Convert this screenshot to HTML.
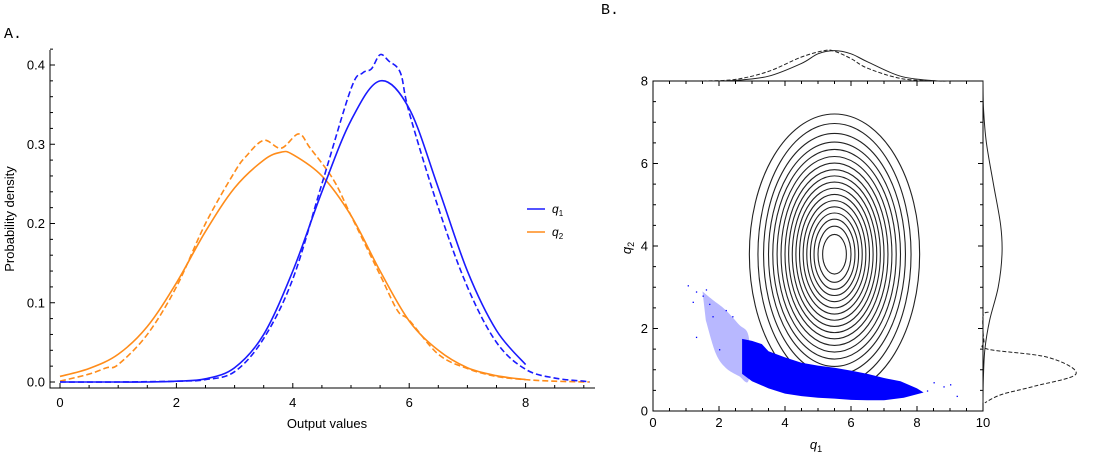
<!DOCTYPE html>
<html><head><meta charset="utf-8"><style>
body{margin:0;background:#fff;}
svg{display:block;font-family:"Liberation Sans",sans-serif;}
</style></head><body>
<svg id="fig" width="1103" height="462" viewBox="0 0 1103 462" xmlns="http://www.w3.org/2000/svg">
<text x="4" y="38" font-family="Liberation Mono,monospace" font-size="15">A.</text>
<text x="601" y="14" font-family="Liberation Mono,monospace" font-size="15">B.</text>
<g id="pa"></g>
<g id="pb"></g>
</svg>
<script>
// ---- Panel A data ----
const q1SolidX = [0,0.5,1,1.5,2,2.5,3,3.5,4,4.5,5,5.5,6,6.5,7,7.5,8];
const q1SolidY = [0,0,0,0,0.001,0.004,0.018,0.06,0.14,0.24,0.33,0.38,0.345,0.245,0.14,0.065,0.022];
const q1DashX = [0,1,2,2.5,3,3.5,4,4.5,5,5.2,5.35,5.5,5.65,5.85,6,6.5,7,7.5,8,8.5,9,9.1];
const q1DashY = [0,0,0.001,0.003,0.013,0.055,0.13,0.25,0.37,0.39,0.395,0.413,0.405,0.39,0.34,0.22,0.12,0.05,0.016,0.005,0.001,0];
const q2SolidX = [0,0.5,1,1.5,2,2.5,3,3.5,3.8,4,4.5,5,5.5,6,6.5,7,7.5,8];
const q2SolidY = [0.007,0.017,0.035,0.07,0.125,0.19,0.245,0.28,0.29,0.287,0.26,0.21,0.14,0.077,0.04,0.018,0.008,0.003];
const q2DashX = [0,0.5,0.8,1,1.5,2,2.5,3,3.2,3.5,3.8,4.1,4.3,4.7,5,5.5,5.8,6,6.5,7,7.5,8,8.5,9.1];
const q2DashY = [0.001,0.01,0.018,0.022,0.06,0.12,0.2,0.265,0.285,0.305,0.295,0.313,0.295,0.255,0.21,0.135,0.09,0.078,0.035,0.017,0.007,0.003,0.001,0];
const aXTicks = [0,2,4,6,8];
const aYTicks = [0,0.1,0.2,0.3,0.4];
const aYTickLabels = ["0.0","0.1","0.2","0.3","0.4"];
// ---- Panel B data ----
const bXTicks = [0,2,4,6,8,10];
const bYTicks = [0,2,4,6,8];
const contourCenter = [5.5,3.8];
const contourRx = [0.36,0.5,0.62,0.73,0.84,0.95,1.06,1.17,1.28,1.39,1.5,1.62,1.74,1.87,2.0,2.15,2.32,2.58];
const contourRy = [0.48,0.68,0.85,1.0,1.15,1.3,1.45,1.6,1.75,1.9,2.05,2.21,2.37,2.54,2.72,2.93,3.17,3.4];
const denseQ1 = [2.7,3.0,3.3,3.5,4,4.5,5,5.5,6,6.5,7,7.5,8,8.2,7.6,7,6.5,6,5.5,5,4.5,4,3.5,3.0,2.7];
const denseQ2 = [1.75,1.7,1.62,1.45,1.3,1.17,1.1,1.05,0.98,0.9,0.8,0.72,0.55,0.45,0.32,0.26,0.26,0.27,0.3,0.32,0.36,0.42,0.55,0.72,0.9];
const sparseQ1 = [1.5,1.8,2.2,2.6,2.9,2.9,2.6,2.2,1.9,1.6];
const sparseQ2 = [2.9,2.7,2.45,2.1,1.8,0.75,0.85,1.05,1.4,2.2];
const outQ1 = [1.05,1.2,1.3,1.5,1.6,1.7,1.3,1.8,2.0,2.2,2.4,8.5,8.8,9.0,9.2,8.3];
const outQ2 = [3.05,2.65,2.9,2.8,2.95,2.6,1.8,2.3,1.5,2.45,2.3,0.7,0.6,0.65,0.37,0.5];
const topSolidX = [1.5,2.5,3.5,4.5,5,5.5,6,6.5,7.5,8.5,9];
const topSolidY = [0,0.02,0.15,0.55,0.85,0.95,0.85,0.6,0.15,0.01,0];
const topDashX = [1.5,2.5,3.5,4.5,5.2,5.5,6,6.5,7.5,8.5,9];
const topDashY = [0,0.05,0.3,0.75,0.95,0.93,0.7,0.4,0.08,0.005,0];
const rightSolidQ = [8,7.3,6.5,5.5,4.5,3.8,3,2.2,1.5,0.8,0.2];
const rightSolidV = [0,0.03,0.18,0.55,0.93,1.0,0.8,0.35,0.1,0.02,0];
const rightDashQ = [2.4,2.3,1.7,1.5,1.3,0.9,0.6,0.4,0.2];
const rightDashV = [0.06,0,0.01,0.05,0.7,1.0,0.55,0.2,0.02];

const NS="http://www.w3.org/2000/svg";
function mk(tag,attrs,parent){const e=document.createElementNS(NS,tag);for(const k in attrs)e.setAttribute(k,attrs[k]);parent.appendChild(e);return e;}
function smooth(pts){let d="M"+pts[0][0].toFixed(2)+","+pts[0][1].toFixed(2);
 for(let i=0;i<pts.length-1;i++){const p0=pts[Math.max(i-1,0)],p1=pts[i],p2=pts[i+1],p3=pts[Math.min(i+2,pts.length-1)];
 const c1=[p1[0]+(p2[0]-p0[0])/6,p1[1]+(p2[1]-p0[1])/6],c2=[p2[0]-(p3[0]-p1[0])/6,p2[1]-(p3[1]-p1[1])/6];
 d+="C"+c1[0].toFixed(2)+","+c1[1].toFixed(2)+" "+c2[0].toFixed(2)+","+c2[1].toFixed(2)+" "+p2[0].toFixed(2)+","+p2[1].toFixed(2);}return d;}

// ---- Panel A ----
const A=document.getElementById('pa');
const ax=v=>60+v*58.2, ay=v=>382-v*792.5;
let e;
e=mk('path',{d:"M50,50V388H595",fill:"none",stroke:"#000","stroke-width":1},A);


for(let v=0;v<=9.01;v+=0.5){const maj=Math.abs(v/2-Math.round(v/2))<1e-6;mk('line',{x1:ax(v),x2:ax(v),y1:388,y2:388-(maj?5:3),stroke:"#000"},A);}
for(let v=0;v<=0.421;v+=0.02){mk('line',{x1:50,x2:50+(Math.abs(v*10-Math.round(v*10))<1e-6?5:3),y1:ay(v),y2:ay(v),stroke:"#000"},A);}
aXTicks.forEach(v=>{e=mk('text',{x:ax(v),y:407,"text-anchor":"middle","font-size":13},A);e.textContent=v;

});
aYTicks.forEach((v,i)=>{e=mk('text',{x:45,y:ay(v)+4.5,"text-anchor":"end","font-size":13},A);e.textContent=aYTickLabels[i];

});
e=mk('text',{x:327,y:428,"text-anchor":"middle","font-size":13},A);e.textContent="Output values";


e=mk('text',{x:0,y:0,"text-anchor":"middle","font-size":13,transform:"translate(14,219) rotate(-90)"},A);e.textContent="Probability density";


function aCurve(xs,ys,col,dash,name){const pts=xs.map((x,i)=>[ax(x),ay(ys[i])]);
 const p=mk('path',{d:smooth(pts),fill:"none",stroke:col,"stroke-width":1.6},A);if(dash)p.setAttribute('stroke-dasharray','6,3');
 
 }
aCurve(q2DashX,q2DashY,"#ff8c1a",true,'q2-empirical-line');
aCurve(q2SolidX,q2SolidY,"#ff8c1a",false,'q2-fitted-line');
aCurve(q1DashX,q1DashY,"#1a1aff",true,'q1-empirical-line');
aCurve(q1SolidX,q1SolidY,"#1a1aff",false,'q1-fitted-line');
e=mk('g',{},A);
mk('line',{x1:527,x2:545,y1:209,y2:209,stroke:"#1a1aff","stroke-width":1.6},e);
mk('line',{x1:527,x2:545,y1:232,y2:232,stroke:"#ff8c1a","stroke-width":1.6},e);
let t=mk('text',{x:552,y:213,"font-size":12,"font-style":"italic"},e);t.innerHTML='q<tspan font-size="8" dy="3" font-style="normal">1</tspan>';
t=mk('text',{x:552,y:236,"font-size":12,"font-style":"italic"},e);t.innerHTML='q<tspan font-size="8" dy="3" font-style="normal">2</tspan>';

// ---- Panel B ----
const B=document.getElementById('pb');
const bx=v=>653+v*33, by=v=>411-v*41.25;
contourRx.forEach((rx,i)=>{e=mk('ellipse',{cx:bx(contourCenter[0]),cy:by(contourCenter[1]),rx:rx*33,ry:contourRy[i]*41.25,fill:"none",stroke:"#222","stroke-width":1.1},B);

});
e=mk('path',{d:smooth(sparseQ1.map((q,i)=>[bx(q),by(sparseQ2[i])]))+"Z",fill:"#4d4dff","fill-opacity":0.4},B);


e=mk('path',{d:"M"+denseQ1.map((q,i)=>bx(q)+","+by(denseQ2[i])).join("L")+"Z",fill:"#0000ff"},B);


outQ1.forEach((q,i)=>{e=mk('rect',{x:bx(q),y:by(outQ2[i]),width:1.3,height:1.3,fill:"#0000ff"},B);

});
e=mk('rect',{x:653,y:81,width:330,height:330,fill:"none",stroke:"#000"},B);


for(let v=0;v<=10.01;v+=0.5){const maj=Math.abs(v/2-Math.round(v/2))<1e-6,l=maj?5:3;
 mk('line',{x1:bx(v),x2:bx(v),y1:411,y2:411-l,stroke:"#000"},B);mk('line',{x1:bx(v),x2:bx(v),y1:81,y2:81+l,stroke:"#000"},B);}
for(let v=0;v<=8.01;v+=0.5){const maj=Math.abs(v/2-Math.round(v/2))<1e-6,l=maj?5:3;
 mk('line',{x1:653,x2:653+l,y1:by(v),y2:by(v),stroke:"#000"},B);mk('line',{x1:983,x2:983-l,y1:by(v),y2:by(v),stroke:"#000"},B);}
bXTicks.forEach(v=>{e=mk('text',{x:bx(v),y:427,"text-anchor":"middle","font-size":13},B);e.textContent=v;

});
bYTicks.forEach(v=>{e=mk('text',{x:648,y:by(v)+4.5,"text-anchor":"end","font-size":13},B);e.textContent=v;

});
e=mk('text',{x:816,y:449,"text-anchor":"middle","font-size":13,"font-style":"italic"},B);e.innerHTML='q<tspan font-size="9" dy="3" font-style="normal">1</tspan>';


e=mk('text',{x:0,y:0,"text-anchor":"middle","font-size":13,"font-style":"italic",transform:"translate(631,248) rotate(-90)"},B);e.innerHTML='q<tspan font-size="9" dy="3" font-style="normal">2</tspan>';


function marg(pts,dash,name){const p=mk('path',{d:smooth(pts),fill:"none",stroke:"#222","stroke-width":1},B);if(dash)p.setAttribute('stroke-dasharray','4,2');
 
 }
marg(topSolidX.map((q,i)=>[bx(q),81-topSolidY[i]*32]),false,'top-marginal-solid');
marg(topDashX.map((q,i)=>[bx(q),81-topDashY[i]*32]),true,'top-marginal-dashed');
marg(rightSolidQ.map((q,i)=>[983+rightSolidV[i]*19,by(q)]),false,'right-marginal-solid');
marg(rightDashQ.map((q,i)=>[983+rightDashV[i]*93,by(q)]),true,'right-marginal-dashed');
</script>
</body></html>
